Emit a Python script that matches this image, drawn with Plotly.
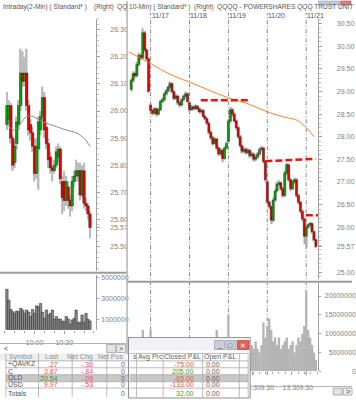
import plotly.graph_objects as go

# ---------------- LEFT PANEL: Intraday 2-min (index 0 = 09:32) ----------------
l_open = [25.95, 25.97, 26.02, 25.90, 25.81, 25.88, 25.95, 26.02, 26.14, 26.11,
          26.14, 26.02, 25.95, 25.92, 25.87, 25.77, 25.86, 25.93, 25.98, 26.05,
          25.94, 25.88, 25.83, 25.79, 25.78, 25.80, 25.83, 25.86, 25.74, 25.74,
          25.67, 25.72, 25.67, 25.65, 25.74, 25.76, 25.76, 25.78, 25.69, 25.78,
          25.66, 25.65, 25.62]
l_close = [26.02, 26.02, 25.90, 25.80, 25.87, 25.96, 26.02, 26.14, 26.11, 26.14,
           26.02, 25.93, 25.92, 25.87, 25.77, 25.87, 25.96, 25.98, 26.05, 25.93,
           25.88, 25.82, 25.79, 25.78, 25.80, 25.85, 25.86, 25.75, 25.68, 25.67,
           25.74, 25.67, 25.65, 25.74, 25.76, 25.78, 25.78, 25.69, 25.78, 25.66,
           25.65, 25.62, 25.57]
l_high = [26.07, 26.04, 26.03, 25.91, 25.89, 25.98, 26.04, 26.23, 26.22, 26.20,
          26.23, 26.04, 25.97, 25.94, 25.90, 25.90, 25.98, 26.00, 26.09, 26.07,
          25.96, 25.90, 25.85, 25.80, 25.82, 25.87, 25.88, 25.87, 25.76, 25.78,
          25.76, 25.74, 25.69, 25.76, 25.78, 25.82, 25.81, 25.81, 25.80, 25.81,
          25.68, 25.66, 25.63]
l_low = [25.93, 25.95, 25.88, 25.78, 25.79, 25.86, 25.93, 26.00, 26.09, 26.09,
         26.00, 25.91, 25.89, 25.85, 25.74, 25.75, 25.71, 25.91, 25.96, 25.90,
         25.86, 25.79, 25.77, 25.74, 25.77, 25.79, 25.81, 25.73, 25.62, 25.63,
         25.65, 25.64, 25.61, 25.63, 25.72, 25.74, 25.74, 25.67, 25.68, 25.64,
         25.63, 25.60, 25.53]
l_vol_m = [3.89, 2.84, 1.95, 1.73, 1.57, 1.79, 1.73, 2.05, 1.89, 1.57,
           1.89, 1.70, 1.26, 1.95, 1.57, 2.30, 2.20, 2.52, 1.67, 1.10,
           1.89, 1.41, 1.57, 1.89, 1.00, 1.26, 1.00, 1.03, 0.84, 0.78,
           1.26, 1.03, 0.52, 0.94, 1.10, 1.89, 0.71, 0.68, 1.41, 0.71,
           1.57, 1.00, 0.84]
l_ma_idx = [0, 4, 7, 10, 13, 18, 22, 26, 30, 35, 39, 42]
l_ma = [25.95, 25.93, 25.955, 25.98, 25.98, 25.96, 25.95, 25.94, 25.93, 25.92, 25.90, 25.87]
l_price_ticks = [26.30, 26.20, 26.10, 26.00, 25.90, 25.80, 25.70, 25.60, 25.50]
l_vol_ticks = [1000000, 3000000, 5000000]
l_time_idx = [14, 29]
l_time_lbl = ["10:00", "10:30"]

# ---------------- RIGHT PANEL: 10-min QQQQ (20 slots per session) ----------------
r_open = [29.05, 29.25, 29.40, 29.35, 29.60, 29.80, 29.75, 30.30, 29.92, 29.72,
          28.70, 28.58, 28.52, 28.62, 28.50, 28.60, 28.78, 28.82, 28.95, 29.02,
          29.10, 29.18, 29.00, 28.85, 28.90, 28.75, 28.70, 28.82, 28.90, 28.95,
          28.75, 28.60, 28.66, 28.62, 28.68, 28.62, 28.55, 28.58, 28.45, 28.40,
          28.30, 28.10, 27.98, 27.85, 27.95, 27.75, 27.62, 27.70, 27.52, 27.75,
          27.90, 28.35, 28.60, 28.50, 28.35, 28.20, 28.00, 27.80, 27.68, 27.72,
          27.65, 27.70, 27.58, 27.62, 27.50, 27.55, 27.62, 27.72, 27.75, 27.45,
          27.00, 26.55, 26.45, 26.15, 26.60, 26.80, 26.95, 26.98, 26.85, 26.70,
          27.20, 27.38, 27.05, 26.85, 27.00, 27.05, 26.70, 26.55, 26.35, 26.18,
          25.80, 26.00, 26.05, 26.08, 25.90, 25.72]
r_close = [29.25, 29.40, 29.35, 29.60, 29.80, 29.75, 30.30, 29.92, 29.72, 29.00,
           28.58, 28.52, 28.62, 28.50, 28.60, 28.78, 28.82, 28.95, 29.02, 29.10,
           29.18, 29.00, 28.85, 28.90, 28.75, 28.70, 28.82, 28.90, 28.95, 28.78,
           28.60, 28.66, 28.62, 28.68, 28.62, 28.55, 28.58, 28.45, 28.40, 28.30,
           28.10, 27.98, 27.85, 27.95, 27.75, 27.62, 27.70, 27.52, 27.75, 27.85,
           28.35, 28.60, 28.50, 28.35, 28.20, 28.00, 27.80, 27.68, 27.72, 27.65,
           27.70, 27.58, 27.62, 27.50, 27.55, 27.62, 27.72, 27.75, 27.45, 27.05,
           26.55, 26.45, 26.15, 26.60, 26.80, 26.95, 26.98, 26.85, 26.70, 27.20,
           27.38, 27.05, 26.85, 27.00, 27.05, 26.70, 26.55, 26.35, 26.18, 25.80,
           26.00, 26.05, 26.08, 25.90, 25.72, 25.57]
r_high = [29.30, 29.45, 29.44, 29.66, 29.86, 29.85, 30.40, 30.34, 29.96, 29.76,
          28.74, 28.62, 28.66, 28.64, 28.64, 28.82, 28.87, 28.99, 29.06, 29.14,
          29.22, 29.20, 29.03, 28.95, 28.93, 28.79, 28.86, 28.94, 29.00, 28.98,
          28.78, 28.70, 28.69, 28.72, 28.70, 28.65, 28.62, 28.61, 28.49, 28.43,
          28.33, 28.14, 28.02, 27.99, 27.98, 27.79, 27.75, 27.73, 27.79, 27.90,
          28.40, 28.66, 28.63, 28.54, 28.38, 28.24, 28.04, 27.84, 27.77, 27.76,
          27.75, 27.73, 27.66, 27.65, 27.60, 27.66, 27.76, 27.80, 27.78, 27.48,
          27.04, 26.59, 26.48, 26.66, 26.85, 27.00, 27.04, 27.01, 26.88, 27.25,
          27.42, 27.40, 27.08, 27.05, 27.10, 27.08, 26.74, 26.58, 26.39, 26.22,
          26.04, 26.09, 26.12, 26.10, 25.93, 25.75]
r_low = [29.00, 29.20, 29.30, 29.31, 29.56, 29.70, 29.72, 29.88, 29.68, 28.98,
         28.50, 28.47, 28.49, 28.44, 28.47, 28.57, 28.74, 28.78, 28.91, 28.98,
         29.06, 28.96, 28.81, 28.82, 28.71, 28.65, 28.67, 28.78, 28.86, 28.74,
         28.55, 28.57, 28.58, 28.59, 28.58, 28.51, 28.52, 28.41, 28.36, 28.26,
         28.05, 27.93, 27.80, 27.82, 27.70, 27.57, 27.58, 27.43, 27.49, 27.71,
         27.86, 28.30, 28.45, 28.31, 28.15, 27.95, 27.75, 27.63, 27.64, 27.60,
         27.61, 27.53, 27.54, 27.45, 27.46, 27.51, 27.58, 27.68, 27.41, 27.00,
         26.50, 26.40, 26.07, 26.12, 26.56, 26.76, 26.91, 26.80, 26.65, 26.66,
         27.15, 27.00, 26.80, 26.82, 26.96, 26.65, 26.50, 26.30, 26.13, 25.62,
         25.55, 25.96, 26.01, 25.86, 25.68, 25.53]
r_vol_m = [6, 4, 5, 4, 5, 6, 11, 7, 6, 8,
           11, 6, 4, 3, 3, 4, 5, 4, 3, 5, 6, 4, 3, 3, 3, 3, 4, 3, 4, 6,
           7, 4, 3, 4, 3, 4, 5, 4, 5, 6, 7, 6, 7, 8, 11, 7, 6, 8, 7, 9,
           15, 9, 7, 6, 8, 7, 6, 5, 6, 5, 6, 5, 7, 6, 8, 6, 5, 7, 13, 9,
           12, 14, 11, 8, 9, 7, 9, 6, 7, 8, 9, 6, 7, 8, 5, 7, 9, 8, 10, 12,
           21.5, 11, 9, 7, 5, 3]
r_ma_k = [-1.3, 10, 20, 30, 40, 50, 60, 70, 80, 85, 90, 94]
r_ma = [29.88, 29.62, 29.38, 29.21, 29.03, 28.86, 28.73, 28.55, 28.42, 28.37, 28.20, 28.00]
res_k0 = [35.8, 69.0, 89.8]
res_k1 = [61.2, 94.9, 96.2]
res_p0 = [28.81, 27.46, 26.26]
res_p1 = [28.81, 27.51, 26.26]
day_start = [10, 30, 50, 70, 90]
day_lbl = ["11/17", "11/18", "11/19", "11/20", "11/21"]
prev_session = -10
slots_per_day = 20
r_price_ticks = [30.50, 30.00, 29.50, 29.00, 28.50, 28.00, 27.50, 27.00, 26.50, 26.00, 25.00]
r_vol_ticks = [0, 5000000, 10000000, 15000000, 20000000]

# ---------------- Tables ----------------
tbl_header = ["Symbol", "Last", "Net Chg", "Net Pos"]
tbl_symbol = ["+QAVKZ", "C", "QLD", "USD", "Totals"]
tbl_last = [".27", "3.87", "20.54", "9.97", ""]
tbl_netchg = ["-.36", "-.84", "-.09", "-.53", ""]
tbl_netpos = ["0", "0", "0", "0", "0"]
pnl_header = ["s", "Avg Prc", "Closed P&amp;L", "Open P&amp;L"]
pnl_closed = ["-75.00", "205.00", "-65.00", "-133.00", "32.00"]
pnl_open = ["0.00", "0.00", "0.00", "0.00", "0.00"]

# ---------------- helpers ----------------
W, H = 356, 400
FONT = "Liberation Sans"
RED, GRN = "#e80000", "#0aa00a"
TXT_RED, TXT_GRN = "#f05050", "#3a9a3a"


def px(x):
    return x / W


def py(y):
    return 1 - y / H


fig = go.Figure()


def add_candles(o, h, l, c, xa, ya, width, wick_col, wick_w):
    xs = list(range(len(c)))
    fig.add_trace(go.Bar(x=xs, y=[a - b for a, b in zip(h, l)], base=l, width=wick_w,
                         marker=dict(color=wick_col, line=dict(width=0)),
                         xaxis=xa, yaxis=ya, hoverinfo="skip"))
    base = [min(a, b) for a, b in zip(o, c)]
    hgt = [max(abs(b - a), 0.006) for a, b in zip(o, c)]
    cols = [GRN if b >= a else RED for a, b in zip(o, c)]
    fig.add_trace(go.Bar(x=xs, y=hgt, base=base, width=width,
                         marker=dict(color=cols, line=dict(color="#202020", width=0.4)),
                         xaxis=xa, yaxis=ya, hoverinfo="skip"))


# left price
add_candles(l_open, l_high, l_low, l_close, "x", "y", 1.3, "#bdbdbd", 0.9)
fig.add_trace(go.Scatter(x=l_ma_idx, y=l_ma, mode="lines", line=dict(color="#8c8c8c", width=1, shape="spline"),
                         xaxis="x", yaxis="y", hoverinfo="skip"))
# left volume
fig.add_trace(go.Bar(x=list(range(len(l_vol_m))), y=[v * 1e6 for v in l_vol_m], width=1.2,
                     marker=dict(color="#8a8a8a", line=dict(color="#202020", width=0.5)),
                     xaxis="x2", yaxis="y2", hoverinfo="skip"))

# right price
add_candles(r_open, r_high, r_low, r_close, "x3", "y3", 1.1, "#a8a8a8", 0.55)
fig.add_trace(go.Scatter(x=r_ma_k, y=r_ma, mode="lines", line=dict(color="#ff7f27", width=1, shape="spline"),
                         xaxis="x3", yaxis="y3", hoverinfo="skip"))
for k0, k1, p0, p1 in zip(res_k0, res_k1, res_p0, res_p1):
    fig.add_trace(go.Scatter(x=[k0, k1], y=[p0, p1], mode="lines",
                             line=dict(color="#ee1111", width=2.5, dash="7px,3px"),
                             xaxis="x3", yaxis="y3", hoverinfo="skip"))
# right volume
fig.add_trace(go.Bar(x=list(range(len(r_vol_m))), y=[v * 1e6 for v in r_vol_m], width=1.2,
                     marker=dict(color="#b4b4b4", line=dict(width=0)),
                     xaxis="x4", yaxis="y4", hoverinfo="skip"))

# ---------------- axes ----------------
tickfont = dict(family=FONT, size=7, color="#808080")
AX = "#a0a0a0"
l_xrange = [-3.5, 45.0]
r_xrange = [-1.334, 96.25]
r_dom = [130, 322]
window_right = 253


def r_pix(k):
    return r_dom[0] + (k - r_xrange[0]) * (r_dom[1] - r_dom[0]) / (r_xrange[1] - r_xrange[0])


thirteen_thirty = 24 * slots_per_day / 39.0
r_tv, r_tt = [], []
for s in [prev_session] + day_start:
    for pos, lab in [(s, "9:30"), (s + thirteen_thirty, "13:30")]:
        # labels hidden behind the P&L window are not shown
        if r_xrange[0] <= pos <= r_xrange[1] and r_pix(pos) > window_right - 2:
            r_tv.append(pos)
            r_tt.append(lab)

fs = "\u2007"
r_vol_text = [str(v).rjust(8, fs) for v in r_vol_ticks]

l_pt = l_price_ticks + [l_close[-1]]
r_pt = r_price_ticks + [r_close[-1]]

fig.update_layout(
    width=W, height=H, margin=dict(l=0, r=0, t=0, b=0),
    paper_bgcolor="white", plot_bgcolor="white", showlegend=False, barmode="overlay",
    xaxis=dict(domain=[0, px(97)], range=l_xrange, anchor="y", showticklabels=False, ticks="",
               showgrid=False, zeroline=False, showline=False),
    yaxis=dict(domain=[py(273), py(18)], range=[25.409, 26.340], anchor="x", side="right",
               showgrid=False, zeroline=False, showline=True, linecolor=AX, linewidth=1,
               tickmode="array", tickvals=l_pt, ticktext=["%.2f" % v for v in l_pt],
               ticks="outside", ticklen=3, tickcolor=AX, tickfont=tickfont, ticklabelstandoff=9,
               minor=dict(ticks="outside", ticklen=2, tickmode="linear", tick0=25.5, dtick=0.02,
                          tickcolor="#c0c0c0", showgrid=False)),
    xaxis2=dict(domain=[0, px(97)], range=l_xrange, anchor="y2", showgrid=False, zeroline=False,
                showline=False, tickmode="array", tickvals=l_time_idx, ticktext=l_time_lbl, tickangle=0,
                ticks="outside", ticklen=3, tickcolor=AX, tickfont=tickfont, ticklabelstandoff=3,
                minor=dict(ticks="outside", ticklen=2, tickmode="linear", tick0=4, dtick=5, tickcolor=AX)),
    yaxis2=dict(domain=[py(332), py(277)], range=[0, 5.238e6], anchor="x2", side="right",
                showgrid=False, zeroline=False, showline=True, linecolor=AX, linewidth=1,
                tickmode="array", tickvals=l_vol_ticks, ticktext=[str(v) for v in l_vol_ticks],
                ticks="outside", ticklen=2, tickcolor=AX, tickfont=tickfont, ticklabelstandoff=1),
    xaxis3=dict(domain=[px(r_dom[0]), px(r_dom[1])], range=r_xrange, anchor="y3", showticklabels=False,
                ticks="", showgrid=False, zeroline=False, showline=False),
    yaxis3=dict(domain=[py(281), py(18)], range=[24.847, 30.61], anchor="x3", side="right",
                showgrid=False, zeroline=False, showline=True, linecolor=AX, linewidth=1,
                tickmode="array", tickvals=r_pt, ticktext=["%.2f" % v for v in r_pt],
                ticks="outside", ticklen=3, tickcolor=AX, tickfont=tickfont, ticklabelstandoff=13,
                minor=dict(ticks="outside", ticklen=2, tickmode="linear", tick0=25.0, dtick=0.1,
                           tickcolor="#c0c0c0", showgrid=False)),
    xaxis4=dict(domain=[px(r_dom[0]), px(r_dom[1])], range=r_xrange, anchor="y4", showgrid=False,
                zeroline=False, showline=False, tickmode="array", tickvals=r_tv, ticktext=r_tt, tickangle=0,
                ticks="outside", ticklen=3, tickcolor=AX, tickfont=tickfont, ticklabelstandoff=6,
                minor=dict(ticks="outside", ticklen=2, tickmode="linear", tick0=0, dtick=3.3, tickcolor=AX)),
    yaxis4=dict(domain=[py(374), py(285)], range=[0, 23.42e6], anchor="x4", side="right",
                showgrid=False, zeroline=False, showline=True, linecolor=AX, linewidth=1,
                tickmode="array", tickvals=r_vol_ticks, ticktext=r_vol_text,
                ticks="outside", ticklen=2, tickcolor=AX, tickfont=tickfont, ticklabelstandoff=2),
)

# ---------------- shapes ----------------
shapes = []
annos = []


def rect(x0, y0, x1, y1, fill="rgba(0,0,0,0)", line=None, lw=1, layer="above"):
    shapes.append(dict(type="rect", xref="paper", yref="paper", x0=px(x0), x1=px(x1), y0=py(y1), y1=py(y0),
                       fillcolor=fill, line=dict(color=line or "rgba(0,0,0,0)", width=lw if line else 0),
                       layer=layer))


def hline(x0, x1, y, color, w=1):
    shapes.append(dict(type="line", xref="paper", yref="paper", x0=px(x0), x1=px(x1), y0=py(y), y1=py(y),
                       line=dict(color=color, width=w), layer="above"))


def vline(x, y0, y1, color, w=1):
    shapes.append(dict(type="line", xref="paper", yref="paper", x0=px(x), x1=px(x), y0=py(y0), y1=py(y1),
                       line=dict(color=color, width=w), layer="above"))


def txt(x, y, s, color="#555555", anchor="left", size=7):
    annos.append(dict(x=px(x), y=py(y), xref="paper", yref="paper", text=s, showarrow=False,
                      xanchor=anchor, yanchor="middle", borderpad=0,
                      font=dict(family=FONT, size=size, color=color)))


# day separator lines (right panel)
for k, lab in zip(day_start, day_lbl):
    shapes.append(dict(type="line", xref="x3", yref="paper", x0=k, x1=k, y0=py(378), y1=py(12),
                       line=dict(color="#8a8a8a", width=1, dash="4px,2px,1px,2px"), layer="below"))
    annos.append(dict(x=k, y=py(15), xref="x3", yref="paper", text=lab, showarrow=False,
                      xanchor="left", yanchor="middle", borderpad=0,
                      font=dict(family=FONT, size=7, color="#555555")))

# pane separators / frames
hline(0, 128, 274.5, "#9c9c9c", 2)
hline(128, 356, 283.5, "#9c9c9c", 2)
vline(128.5, 0, 357, "#b4b4b4", 1.5)
# left scrollbar
hline(0, 128, 346, "#b0b0b0", 1)
rect(108, 347, 117, 355, fill="#e4e4e4", line="#a0a0a0", lw=0.8)
rect(118, 347, 127, 355, fill="#ececec", line="#a0a0a0", lw=0.8)
txt(3, 351, "&lt;", "#333333")
txt(122.5, 351, "&gt;", "#333333", anchor="center")

# left table
rect(0, 356, 128, 363.5, fill="#efefef")
rect(6, 377.5, 130, 384.5, fill="#c8c8c8")
for yy in [363.5, 370.5, 377.5, 384.5, 391]:
    hline(6, 130, yy, "#a8a8a8", 0.8)
for xx in [6, 39, 73, 108]:
    vline(xx, 356, 400, "#a8a8a8", 0.8)
row_y = [367, 374, 381, 387.5, 396]
last_cols = [TXT_RED, TXT_RED, TXT_GRN, TXT_RED, TXT_RED]
for hx, h, anc in zip([8, 60, 95, 125], tbl_header, ["left", "right", "right", "right"]):
    txt(hx, 359.5, h, "#909090", anc)
for i, yy in enumerate(row_y):
    txt(7, yy, tbl_symbol[i], "#555555")
    if tbl_last[i]:
        txt(60, yy, tbl_last[i], last_cols[i], "right")
    if tbl_netchg[i]:
        txt(95, yy, tbl_netchg[i], TXT_RED, "right")
    txt(124, yy, tbl_netpos[i], "#666666", "center")

# right P&L window (overlapping the volume pane)
rect(130, 340, window_right, 401, fill="white", line="#8c8c8c", lw=1)
rect(130.5, 340.5, 252.5, 353, fill="#f2f2f4")
rect(217, 343, 227, 352, fill="#c9ced8", line="#8890a0", lw=0.6)
rect(228.5, 343, 238.5, 352, fill="#c9ced8", line="#8890a0", lw=0.6)
rect(240, 343, 252, 352, fill="#e2605a", line="#a03030", lw=0.6)
txt(222, 347.5, "_", "#404040", "center")
txt(233.5, 347.8, "\u25a1", "#404040", "center")
txt(246, 347.8, "\u2715", "white", "center")
rect(131, 377.5, 251, 384.5, fill="#c8c8c8")
for yy in [356, 363.5, 370.5, 377.5, 384.5, 391]:
    hline(131, 251, yy, "#a8a8a8", 0.8)
for xx in [138, 165, 205, 242, 251]:
    vline(xx, 356, 400, "#a8a8a8", 0.8)
for hx, h, anc in zip([133, 152, 185, 223], pnl_header, ["left", "center", "center", "center"]):
    txt(hx, 359.5, h, "#606060", anc)
for i, yy in enumerate(row_y):
    c = TXT_RED if pnl_closed[i].startswith("-") else TXT_GRN
    txt(197, yy, pnl_closed[i], c, "right")
    txt(224, yy, pnl_open[i], "#606060", "right")

# right scrollbar
hline(253, 356, 389.5, "#b0b0b0", 1)
rect(337, 391, 346, 398, fill="#e4e4e4", line="#a0a0a0", lw=0.8)
rect(347, 391, 356, 398, fill="#ececec", line="#a0a0a0", lw=0.8)
txt(351.5, 394.5, "&gt;", "#333333", "center")

# top-right window buttons
rect(322, 0, 332, 4, fill="#c3c9d6", line="#9098a8", lw=0.5)
rect(333, 0, 343, 4, fill="#c3c9d6", line="#9098a8", lw=0.5)
rect(344, 0, 355, 4, fill="#d88080", line="#a05050", lw=0.5)

# titles
txt(2, 6, "Intraday(2-Min) ( Standard* )", "#555555", size=6.6)
txt(94, 6, "(Right)", "#555555", size=6.6)
txt(117, 6, "QQ", "#555555", size=6.6)
txt(129, 6, "10-Min) ( Standard* )", "#555555", size=6.6)
txt(195, 6, "(Right)", "#555555", size=6.6)
txt(218, 6, "QQQQ - POWERSHARES QQQ TRUST UNIT", "#555555", size=6.6)

fig.update_layout(shapes=shapes, annotations=annos)
fig.write_html("out.html", config={"displayModeBar": False},
               post_script="document.body.style.margin='0px';document.body.style.overflow='hidden';")
